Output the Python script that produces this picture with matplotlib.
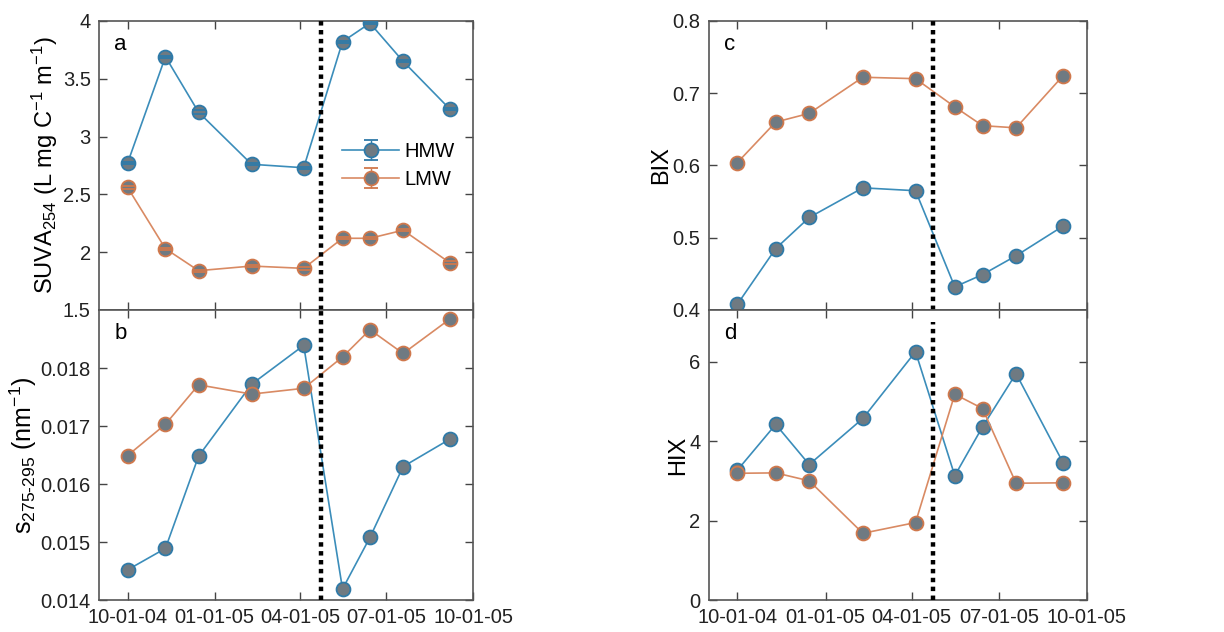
import numpy as np
import pandas as pd
import matplotlib
matplotlib.use('Agg')
import matplotlib.pyplot as plt

# サンプリング日
dates = pd.to_datetime(['2004-10-01', '2004-11-10', '2004-12-15', '2005-02-09',
                        '2005-04-05', '2005-05-16', '2005-06-14', '2005-07-19',
                        '2005-09-06'])
event_date = pd.Timestamp('2005-04-23')

# SUVA254
suva_hmw = [2.77, 3.69, 3.21, 2.76, 2.73, 3.82, 3.98, 3.65, 3.24]
suva_lmw = [2.56, 2.03, 1.84, 1.88, 1.86, 2.12, 2.12, 2.19, 1.91]
suva_hmw_err = [0.01, 0.01, 0.015, 0.01, 0.01, 0.01, 0.01, 0.01, 0.01]
suva_lmw_err = [0.01, 0.01, 0.01, 0.01, 0.01, 0.01, 0.01, 0.01, 0.01]

# スペクトル勾配 S275-295
slope_hmw = [0.01452, 0.01489, 0.01648, 0.01772, 0.01839, 0.01419, 0.01508, 0.01630, 0.01677]
slope_lmw = [0.01649, 0.01703, 0.01771, 0.01755, 0.01765, 0.01819, 0.01866, 0.01825, 0.01884]

# BIX
bix_hmw = [0.408, 0.485, 0.528, 0.569, 0.565, 0.432, 0.449, 0.475, 0.516]
bix_lmw = [0.604, 0.660, 0.672, 0.722, 0.720, 0.681, 0.655, 0.652, 0.724]

# HIX
hix_hmw = [3.27, 4.42, 3.41, 4.57, 6.25, 3.13, 4.36, 5.70, 3.46]
hix_lmw = [3.19, 3.20, 3.00, 1.68, 1.95, 5.18, 4.82, 2.94, 2.95]

x_ticks = pd.to_datetime(['2004-10-01', '2005-01-01', '2005-04-01', '2005-07-01', '2005-10-01'])
x_ticklabels = ['10-01-04', '01-01-05', '04-01-05', '07-01-05', '10-01-05']

plt.rcParams['font.family'] = ['Liberation Sans', 'DejaVu Sans']
plt.rcParams['mathtext.fontset'] = 'custom'
plt.rcParams['mathtext.rm'] = 'Liberation Sans'
plt.rcParams['mathtext.it'] = 'Liberation Sans'
plt.rcParams['font.size'] = 14

blue_line = '#3b8dba'
blue_edge = '#2f7aa8'
orange_line = '#d98a63'
orange_edge = '#d0784c'
face = '#6f7a82'

fig = plt.figure(figsize=(12.24, 6.32), dpi=100)
ax_a = fig.add_axes([0.081, 0.5095, 0.3056, 0.4575])
ax_b = fig.add_axes([0.081, 0.0506, 0.3056, 0.4589])
ax_c = fig.add_axes([0.579, 0.5095, 0.309, 0.4575])
ax_d = fig.add_axes([0.579, 0.0506, 0.309, 0.4589])


def draw_series(ax, y, color, edge, err=None, label=None):
    if err is not None:
        eb = ax.errorbar(dates, y, yerr=err, color=color, lw=1.2, marker='o',
                         ms=10, mfc=face, mec=edge, mew=1.3, capsize=5,
                         ecolor=edge, elinewidth=1.0, label=label, zorder=3)
        # キャップはマーカーの上に描く
        for cap in eb[1]:
            cap.set_zorder(4)
        return eb
    return ax.plot(dates, y, color=color, lw=1.2, marker='o', ms=10,
                   mfc=face, mec=edge, mew=1.3, label=label, zorder=3)


draw_series(ax_a, suva_hmw, blue_line, blue_edge, suva_hmw_err, 'HMW')
draw_series(ax_a, suva_lmw, orange_line, orange_edge, suva_lmw_err, 'LMW')
draw_series(ax_b, slope_hmw, blue_line, blue_edge)
draw_series(ax_b, slope_lmw, orange_line, orange_edge)
draw_series(ax_c, bix_hmw, blue_line, blue_edge)
draw_series(ax_c, bix_lmw, orange_line, orange_edge)
draw_series(ax_d, hix_hmw, blue_line, blue_edge)
draw_series(ax_d, hix_lmw, orange_line, orange_edge)

# 軸の範囲と目盛り
ax_a.set_ylim(1.5, 4)
ax_a.set_yticks([1.5, 2, 2.5, 3, 3.5, 4])
ax_a.set_yticklabels(['1.5', '2', '2.5', '3', '3.5', '4'])
ax_b.set_ylim(0.014, 0.019)
ax_b.set_yticks([0.014, 0.015, 0.016, 0.017, 0.018])
ax_b.set_yticklabels(['0.014', '0.015', '0.016', '0.017', '0.018'])
ax_c.set_ylim(0.4, 0.8)
ax_c.set_yticks([0.4, 0.5, 0.6, 0.7, 0.8])
ax_c.set_yticklabels(['0.4', '0.5', '0.6', '0.7', '0.8'])
ax_d.set_ylim(0, 7.3)
ax_d.set_yticks([0, 2, 4, 6])

ax_a.set_ylabel('SUVA$_{254}$ (L mg C$^{-1}$ m$^{-1}$)', fontsize=17, labelpad=2)
ax_b.set_ylabel('s$_{275\u2010295}$ (nm$^{-1}$)', fontsize=18, labelpad=1)
ax_c.set_ylabel('BIX', fontsize=17, labelpad=0)
ax_d.set_ylabel('HIX', fontsize=17, labelpad=0)

for ax, letter in zip([ax_a, ax_b, ax_c, ax_d], ['a', 'b', 'c', 'd']):
    ax.set_xlim(pd.Timestamp('2004-09-01'), pd.Timestamp('2005-10-01'))
    ax.set_xticks(x_ticks)
    ax.tick_params(direction='in', top=True, right=True, length=6,
                   width=1, color='#444444', labelcolor='#222222',
                   labelsize=14.5, pad=6)
    for sp in ax.spines.values():
        sp.set_color('#555555')
        sp.set_linewidth(1.2)
    ax.text(0.04, 0.9, letter, transform=ax.transAxes, fontsize=16)

for ax in [ax_a, ax_c]:
    ax.set_xticklabels([])
for ax in [ax_b, ax_d]:
    ax.set_xticklabels(x_ticklabels)

# 境界の点線
for ax in [ax_a, ax_b, ax_c]:
    ax.axvline(event_date, color='black', lw=3.2, ls=(0, (1, 1)), zorder=5)
ax_d.axvline(event_date, ymax=7.0 / 7.3, color='black', lw=3.2, ls=(0, (1, 1)), zorder=5)

ax_a.legend(loc='center right', bbox_to_anchor=(1.0, 0.5), frameon=False,
            fontsize=14.5, handlelength=2.8, handletextpad=0.3, labelspacing=0.45)

fig.savefig('out.png', dpi=100)
